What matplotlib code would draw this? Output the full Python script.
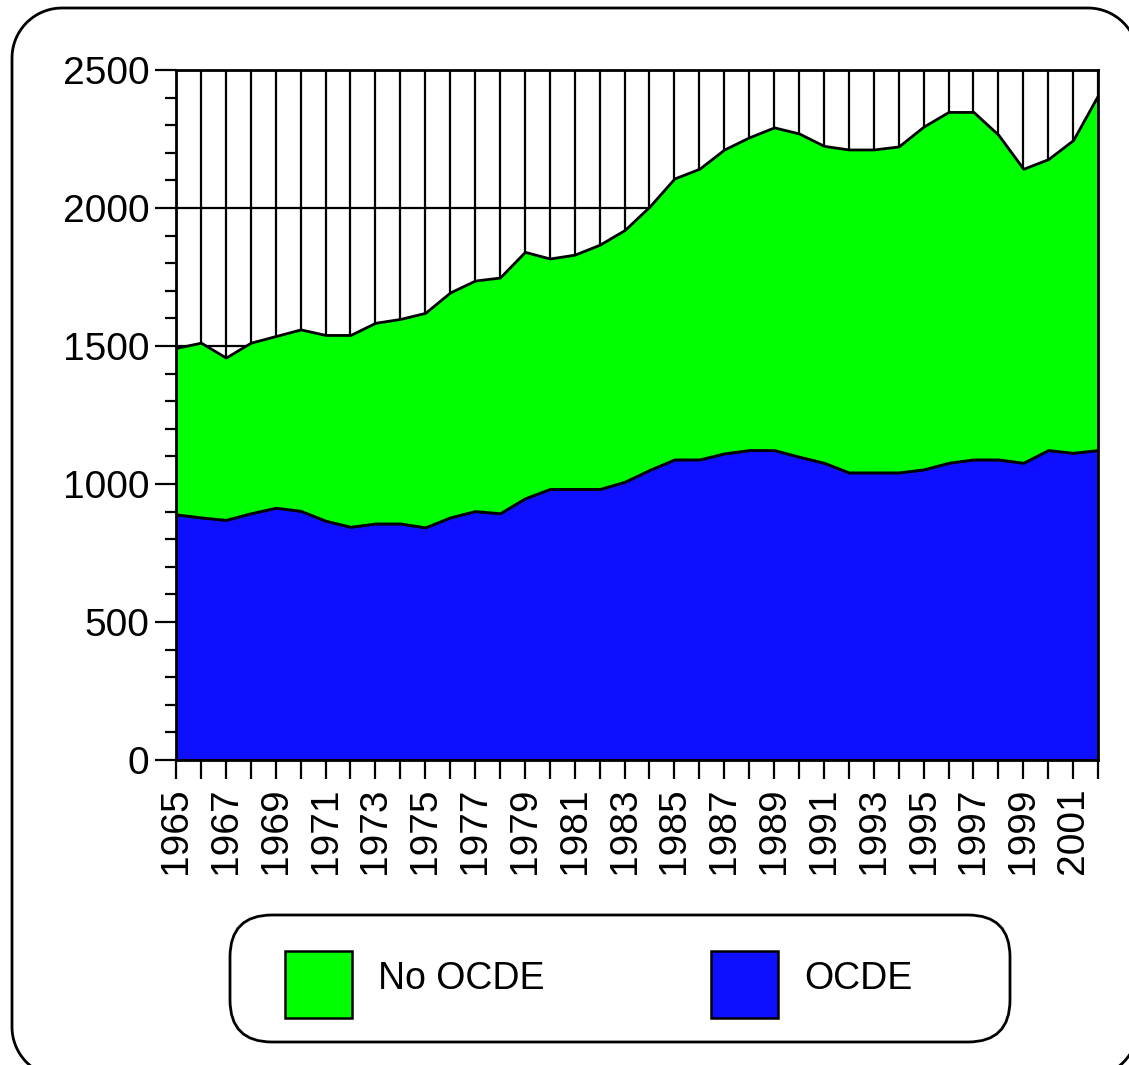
import numpy as np
import matplotlib.pyplot as plt
from matplotlib.patches import FancyBboxPatch, Rectangle, Polygon

plt.rcParams['font.family'] = ['Liberation Sans', 'DejaVu Sans']

# consumo por grupo de países, 1965-2002
anos = list(range(1965, 2003))
ocde = [890, 879, 870, 894, 914, 903, 867, 845, 857, 857,
        843, 879, 902, 894, 948, 982, 982, 982, 1008, 1051,
        1089, 1089, 1111, 1123, 1123, 1099, 1077, 1042, 1042, 1042,
        1053, 1077, 1089, 1089, 1077, 1123, 1113, 1123]
no_ocde = [603, 633, 588, 618, 622, 657, 673, 695, 727, 741,
           777, 815, 835, 854, 893, 835, 849, 885, 912, 954,
           1018, 1053, 1101, 1133, 1169, 1171, 1148, 1170, 1170, 1181,
           1242, 1271, 1259, 1176, 1065, 1054, 1133, 1286]

nomes = ['OCDE', 'No OCDE']
cores = ['#0f0fff', '#00ff00']

fig = plt.figure(figsize=(11.29, 10.65), dpi=100)
ax = fig.add_axes([0.1559, 0.2864, 0.8167, 0.6479])

ax.stackplot(anos, ocde, no_ocde, colors=cores,
             edgecolor='black', linewidth=2, zorder=3)

ax.set_xlim(1965, 2002)
ax.set_ylim(0, 2500)

# grade vertical a cada ano, horizontal a cada 500
ax.set_xticks(anos)
ax.set_xticklabels([str(a) if a % 2 == 1 else '' for a in anos],
                   rotation=90, fontsize=28)
ax.set_yticks(range(0, 2501, 500))
ax.set_yticks(range(0, 2501, 100), minor=True)
ax.tick_params(axis='y', labelsize=28)
ax.grid(True, which='major', color='black', linewidth=1.6)
ax.set_axisbelow(True)

ax.tick_params(axis='x', which='major', direction='out', length=14, width=1.6, pad=6)
ax.tick_params(axis='y', which='major', direction='out', length=15, width=1.6, pad=4)
ax.tick_params(axis='y', which='minor', direction='out', length=8, width=1.6)
for lado in ['left', 'right', 'top', 'bottom']:
    ax.spines[lado].set_linewidth(2)
    ax.spines[lado].set_zorder(5)


def retangulo_arredondado(x0, y0, x1, y1, r, n=24):
    """Contorno de retângulo com cantos arredondados, em segmentos de reta."""
    pts = []
    cantos = [(x1 - r, y1 - r, 0), (x0 + r, y1 - r, 90),
              (x0 + r, y0 + r, 180), (x1 - r, y0 + r, 270)]
    for cx, cy, a0 in cantos:
        t = np.radians(np.linspace(a0, a0 + 90, n))
        pts.extend(zip(cx + r * np.cos(t), cy + r * np.sin(t)))
    return np.array(pts)


# moldura arredondada da figura (passa um pouco da borda à direita e embaixo)
fig.patches.append(Polygon(retangulo_arredondado(0.12, -0.12, 11.38, 10.57, 0.5),
                           closed=True, transform=fig.dpi_scale_trans,
                           facecolor='none', edgecolor='black', linewidth=2))

# legenda
fig.patches.append(FancyBboxPatch((2.30, 0.23), 7.80, 1.27,
                                  boxstyle='round,pad=0,rounding_size=0.42',
                                  transform=fig.dpi_scale_trans,
                                  facecolor='white', edgecolor='black', linewidth=2))
itens = [(2.85, 'No OCDE', cores[1]), (7.11, 'OCDE', cores[0])]
for x0, nome, cor in itens:
    fig.patches.append(Rectangle((x0, 0.47), 0.67, 0.67, transform=fig.dpi_scale_trans,
                                 facecolor=cor, edgecolor='black', linewidth=1.8))
    fig.text(x0 + 0.93, 0.86, nome, fontsize=27, va='center', ha='left',
             transform=fig.dpi_scale_trans)

fig.savefig('out.png', dpi=100)
